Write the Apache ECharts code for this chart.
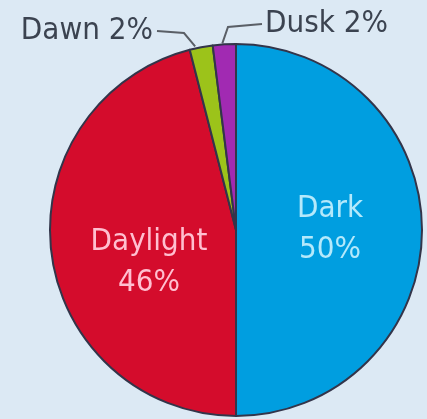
<!DOCTYPE html>
<html><head><meta charset="utf-8">
<script src="https://cdn.jsdelivr.net/npm/echarts@6/dist/echarts.min.js"></script>
<style>html,body{margin:0;padding:0;background:#dce9f4;}#c{width:427px;height:419px;}</style>
</head><body><div id="c"></div>
<script>
const categories = ['Dark', 'Daylight', 'Dawn', 'Dusk'];
const values = [50, 46, 2, 2];
const colors = ['#009ee0', '#d40c2c', '#9cc31a', '#a12ab2'];
const labelColors = ['#b4e9fb', '#ffbfd0', '#3b4350', '#3b4350'];

const FONT = '"DejaVu Sans Condensed", "Liberation Sans Narrow", sans-serif';
const chart = echarts.init(document.getElementById('c'), null, {renderer: 'canvas'});

const data = categories.map((name, i) => {
  const small = values[i] < 10;
  return {
    name, value: values[i],
    itemStyle: {color: colors[i]},
    label: {
      position: small ? 'outside' : 'inside',
      color: labelColors[i],
      formatter: small ? '{b} {c}%' : '{b}\n{c}%',
      lineHeight: small ? 34 : 41,
      overflow: 'none',
      width: 200
    },
    labelLine: {show: small}
  };
});

chart.setOption({
  backgroundColor: '#dce9f4',
  animation: false,
  series: [{
    type: 'pie',
    center: [236, 230],
    radius: 186,
    startAngle: 90,
    clockwise: true,
    data,
    itemStyle: {borderColor: '#33354a', borderWidth: 2},
    label: {
      fontFamily: FONT, fontSize: 31, textBorderWidth: 0,
    },
    labelLine: {lineStyle: {color: '#5a5f66', width: 2}, length: 10, length2: 20, smooth: false},
    labelLayout: function (p) {
      const i = p.dataIndex;
      if (i === 0) return {x: 330, y: 229, align: 'center', verticalAlign: 'middle'};
      if (i === 1) return {x: 149, y: 262, align: 'center', verticalAlign: 'middle'};
      const p0 = p.labelLinePoints ? p.labelLinePoints[0] : [0, 0];
      if (i === 2) return {x: 153, y: 31, align: 'right', verticalAlign: 'middle',
        labelLinePoints: [[p0[0] - 6, p0[1] - 1], [184, 33], [157, 31]]};
      return {x: 265, y: 24, align: 'left', verticalAlign: 'middle',
        labelLinePoints: [[p0[0] - 2, p0[1] - 1], [228, 27], [262, 24]]};
    }
  }]
});
</script></body></html>
